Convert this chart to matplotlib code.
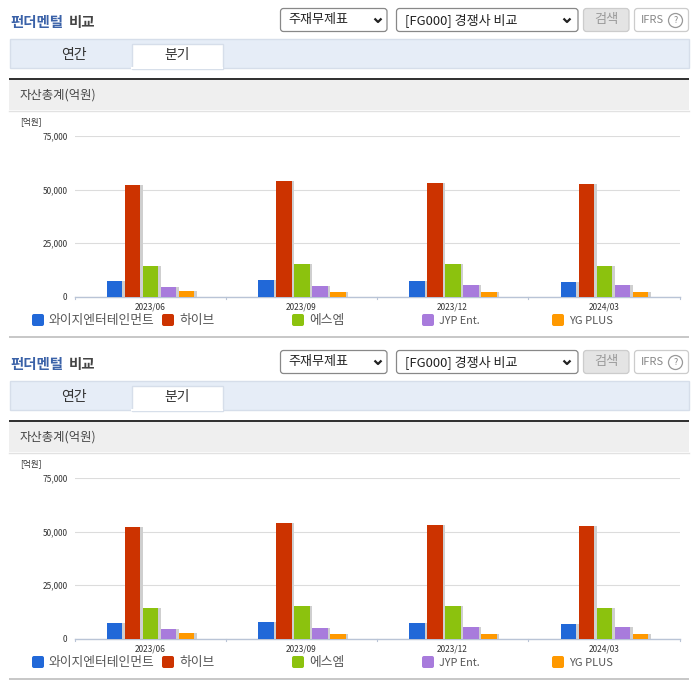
import matplotlib
matplotlib.use('Agg')
import matplotlib.pyplot as plt
from matplotlib.patches import Rectangle, FancyBboxPatch, Circle
import numpy as np

plt.rcParams['font.family'] = ['Noto Sans CJK KR', 'DejaVu Sans']

W, H = 696, 684

quarters = ['2023/06', '2023/09', '2023/12', '2024/03']
companies = ['와이지엔터테인먼트', '하이브', '에스엠', 'JYP Ent.', 'YG PLUS']
legend_sizes = [9.2, 9.2, 9.2, 7.8, 8]
colors = ['#2168d8', '#cc3300', '#8cc20e', '#a87bdc', '#ff9900']

# values per company, one per quarter (억원)
yg_ent = [7300, 7800, 7300, 6900]
hybe = [52200, 54000, 53000, 52600]
sm = [14400, 15400, 15400, 14400]
jyp = [4500, 5000, 5300, 5500]
yg_plus = [2800, 2300, 2200, 2300]
series = [yg_ent, hybe, sm, jyp, yg_plus]

y_ticks = [0, 25000, 50000, 75000]
legend_x = [32, 162, 292, 422, 552]
panel_offsets = [0, 342]


def rounded(ax, x0, y0, x1, y1, face, edge):
    box = FancyBboxPatch((x0 + 2, y0 + 2), x1 - x0 - 4, y1 - y0 - 4, boxstyle='round,pad=2,rounding_size=3',
                         facecolor=face, edgecolor=edge, linewidth=0.9)
    ax.add_patch(box)


def chevron(ax, x, y):
    ax.plot([x - 3.5, x, x + 3.5], [y - 1.5, y + 2, y - 1.5], color='#222222', lw=1.6, solid_capstyle='butt')


def draw_page(ax, off):
    # title
    ax.text(10, 23 + off, '펀더멘털', color='#3b62a8', fontsize=10.4, fontweight='bold', va='center')
    ax.text(69, 23 + off, '비교', color='#444444', fontsize=10.4, fontweight='bold', va='center')

    # selects and buttons
    rounded(ax, 280.5, 8.5 + off, 387, 31.5 + off, 'white', '#888888')
    ax.text(288, 20 + off, '주재무제표', color='#222222', fontsize=9.4, va='center')
    chevron(ax, 378, 20 + off)
    rounded(ax, 396.5, 8.5 + off, 578, 31.5 + off, 'white', '#888888')
    ax.text(405, 20 + off, '[FG000] 경쟁사 비교', color='#222222', fontsize=9.4, va='center')
    chevron(ax, 567, 20 + off)
    rounded(ax, 583.5, 8.5 + off, 629, 31.5 + off, '#e4e4e4', '#cccccc')
    ax.text(606, 20 + off, '검색', color='#999999', fontsize=9.5, ha='center', va='center')
    rounded(ax, 634.5, 8.5 + off, 688.5, 31.5 + off, 'white', '#cccccc')
    ax.text(641, 20 + off, 'IFRS', color='#888888', fontsize=8, va='center')
    ax.add_patch(Circle((675.5, 20.5 + off), 7, facecolor='white', edgecolor='#999999', lw=0.9))
    ax.text(675.5, 20.5 + off, '?', color='#888888', fontsize=6.5, ha='center', va='center')

    # tabs
    ax.add_patch(Rectangle((9.5, 38.5 + off), 679, 29, facecolor='#e6edf7', edgecolor='#d6deea', lw=1))
    ax.add_patch(Rectangle((131.5, 43.5 + off), 91, 25, facecolor='white', edgecolor='#d6deea', lw=1))
    ax.plot([132, 222], [68 + off, 68 + off], color='white', lw=1.5)
    ax.text(74, 54.5 + off, '연간', color='#333333', fontsize=10, ha='center', va='center')
    ax.text(177, 54.5 + off, '분기', color='#333333', fontsize=10, ha='center', va='center')

    # section header
    ax.add_patch(Rectangle((9, 80 + off), 680, 30, facecolor='#efefef', edgecolor='none'))
    ax.add_patch(Rectangle((9, 78 + off), 680, 2, facecolor='#333333', edgecolor='none'))
    ax.plot([9, 689], [110.5 + off, 110.5 + off], color='#e2e2e2', lw=1)
    ax.text(20, 95 + off, '자산총계(억원)', color='#444444', fontsize=8.9, va='center')
    ax.text(20, 122 + off, '[억원]', color='#333333', fontsize=6.2, va='center')

    # legend
    for x, name, c, size in zip(legend_x, companies, colors, legend_sizes):
        ax.add_patch(FancyBboxPatch((x + 1, 315 + off), 10, 10, boxstyle='round,pad=1,rounding_size=2',
                                    facecolor=c, edgecolor='none'))
        ax.text(x + 17, 320.5 + off, name, color='#555555', fontsize=size, va='center')

    ax.add_patch(Rectangle((9, 336 + off), 680, 2, facecolor='#c8c8c8', edgecolor='none'))


def draw_chart(fig, off):
    left, right = 74.5, 679.5
    top, bottom = 136 + off, 296.5 + off
    ax = fig.add_axes([left / W, 1 - bottom / H, (right - left) / W, (bottom - top) / H])
    ax.patch.set_alpha(0)

    n = len(quarters)
    bar_w = 15.5 / 151.25
    step = 18 / 151.25
    xs = np.arange(n)
    for i, (vals, c) in enumerate(zip(series, colors)):
        pos = xs + (i - 2) * step + 0.5 / 151.25
        # the light shadow to the right of each bar
        ax.bar(pos + 2.5 / 151.25, vals, bar_w, color='#cfcfcf', zorder=2)
        ax.bar(pos, vals, bar_w, color=c, zorder=3)

    ax.set_xlim(-0.5, n - 0.5)
    ax.set_ylim(0, 75000)
    ax.set_yticks(y_ticks)
    ax.set_yticklabels([f'{v:,}' for v in y_ticks], fontsize=6, color='#333333')
    ax.set_xticks(xs)
    ax.set_xticklabels(quarters, fontsize=6, color='#333333')
    ax.grid(axis='y', color='#dcdcdc', lw=0.8, zorder=0)
    ax.set_axisbelow(True)
    ax.tick_params(axis='y', length=0, pad=5)
    ax.tick_params(axis='x', length=0, pad=4.5)
    for s in ['top', 'right', 'left']:
        ax.spines[s].set_visible(False)
    ax.spines['bottom'].set_color('#b9c4d6')
    ax.spines['bottom'].set_linewidth(1)
    # small separators between the quarters, on the axis line
    for b in np.arange(n + 1) - 0.5:
        ax.plot([b, b], [0, -1400], color='#b9c4d6', lw=0.8, clip_on=False, zorder=1)


fig = plt.figure(figsize=(W / 100, H / 100), dpi=100, facecolor='white')
page = fig.add_axes([0, 0, 1, 1])
page.set_xlim(0, W)
page.set_ylim(H, 0)
page.axis('off')

for off in panel_offsets:
    draw_page(page, off)
    draw_chart(fig, off)

fig.savefig('out.png', dpi=100)
